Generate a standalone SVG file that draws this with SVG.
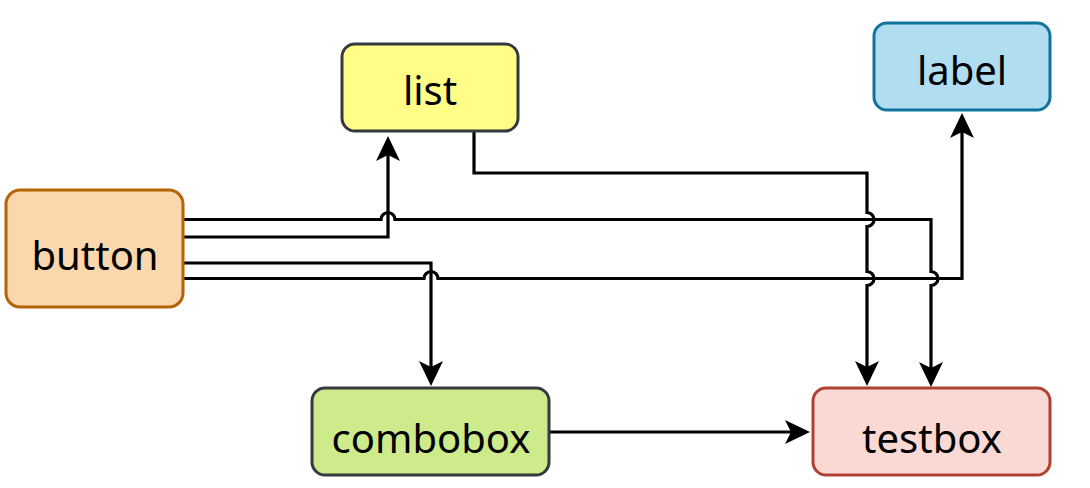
<svg xmlns="http://www.w3.org/2000/svg" width="1090" height="488" viewBox="0 0 1090 488">
  <style>
    .node { stroke-width: 3; }
    .lbl { font-family: "Noto Sans", "DejaVu Sans", sans-serif; font-size: 40px; fill: #000; text-anchor: middle; }
    .edge { fill: none; stroke: #000; stroke-width: 3.2; }
    .arr { marker-end: url(#arrow); }
  </style>
  <defs>
    <marker id="arrow" markerUnits="userSpaceOnUse" markerWidth="30" markerHeight="28" viewBox="0 -14 30 28" refX="6" refY="0" orient="auto">
      <path d="M0,-12 L25,0 L0,12 L6,0 Z" fill="#000" stroke="none"/>
    </marker>
  </defs>
  <rect width="1090" height="488" fill="#ffffff"/>

  <g id="connectors">
    <path id="e-button-testbox" class="edge arr" d="M183,219.5 H381 A7,7 0 0 1 395,219.5 H931 V271.5 A7,7 0 0 1 931,285.5 V368"/>
    <path id="e-button-list" class="edge arr" d="M183,237 H388 V155"/>
    <path id="e-button-combobox" class="edge arr" d="M183,263 H431 V367"/>
    <path id="e-button-label" class="edge arr" d="M183,278.5 H424 A7,7 0 0 1 438,278.5 H962 V132"/>
    <path id="e-list-testbox" class="edge arr" d="M474,131 V173 H867 V212.5 A7,7 0 0 1 867,226.5 V271.5 A7,7 0 0 1 867,285.5 V367"/>
    <path id="e-combobox-testbox" class="edge arr" d="M549,432 H791"/>
  </g>

  <g id="button">
    <rect class="node" x="6" y="190" width="177" height="117" rx="14" fill="#fad7ac" stroke="#b46504"/>
    <text class="lbl" x="95" y="270">button</text>
  </g>
  <g id="list">
    <rect class="node" x="342" y="44" width="176" height="87" rx="13" fill="#ffff88" stroke="#36393d"/>
    <text class="lbl" x="430" y="105">list</text>
  </g>
  <g id="label">
    <rect class="node" x="874" y="23" width="176" height="87" rx="13" fill="#b1ddf0" stroke="#10739e"/>
    <text class="lbl" x="962" y="85">label</text>
  </g>
  <g id="combobox">
    <rect class="node" x="312" y="388" width="237" height="87" rx="13" fill="#cdeb8b" stroke="#36393d"/>
    <text class="lbl" x="431" y="453">combobox</text>
  </g>
  <g id="testbox">
    <rect class="node" x="813" y="388" width="237" height="87" rx="13" fill="#fad9d5" stroke="#ae4132"/>
    <text class="lbl" x="932" y="453">testbox</text>
  </g>
</svg>
